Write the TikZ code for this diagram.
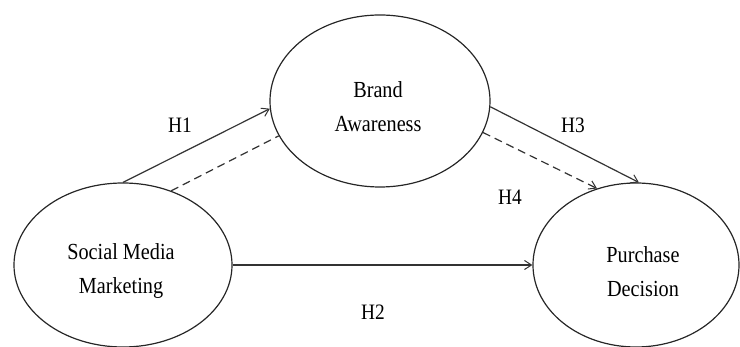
\documentclass[tikz,border=0pt]{standalone}
\usepackage{fontspec}
\setmainfont{Liberation Serif}
\usetikzlibrary{shapes.geometric,arrows.meta}
\newcommand{\narrow}[1]{\scalebox{0.88}[1]{#1}}
\begin{document}
\begin{tikzpicture}[x=1pt,y=-1pt,
  latent/.style={draw=black!85, line width=1.2pt, ellipse, inner sep=0pt},
  ltext/.style={align=center, inner sep=0pt, font=\fontsize{23}{34}\selectfont},
  link/.style={draw=black!80, line width=1.2pt, -{Straight Barb[length=7pt,width=9pt,line width=1pt]}},
  dlink/.style={link, dash pattern=on 8pt off 5pt},
  hlabel/.style={font=\fontsize{22}{26}\selectfont, inner sep=0pt}]
\useasboundingbox (0,0) rectangle (740,347);
\node[latent, minimum width=218pt, minimum height=164pt] (sm) at (123,265) {};
\node[latent, minimum width=220pt, minimum height=172pt] (ba) at (380,101) {};
\node[latent, minimum width=206pt, minimum height=164pt] (pd) at (636,265) {};
\node[ltext] (smt) at (121,271) {\narrow{Social Media}\\\narrow{Marketing}};
\node[ltext] (bat) at (378,107) {\narrow{Brand}\\\narrow{Awareness}};
\node[ltext] (pdt) at (643,272) {\narrow{Purchase}\\\narrow{Decision}};
\draw[link] (sm.north) -- (ba.184);
\draw[dlink, -] (sm.57) -- (ba.199);
\draw[link] (ba.-3) -- (pd.88);
\draw[dlink] (ba.-17) -- (pd.117);
\draw[link] (sm.east) -- (pd.west);
\node[hlabel] (h1) at (180,125) {\narrow{H1}};
\node[hlabel] (h2) at (373,312) {\narrow{H2}};
\node[hlabel] (h3) at (573,125) {\narrow{H3}};
\node[hlabel] (h4) at (510,197) {\narrow{H4}};
\end{tikzpicture}
\end{document}
